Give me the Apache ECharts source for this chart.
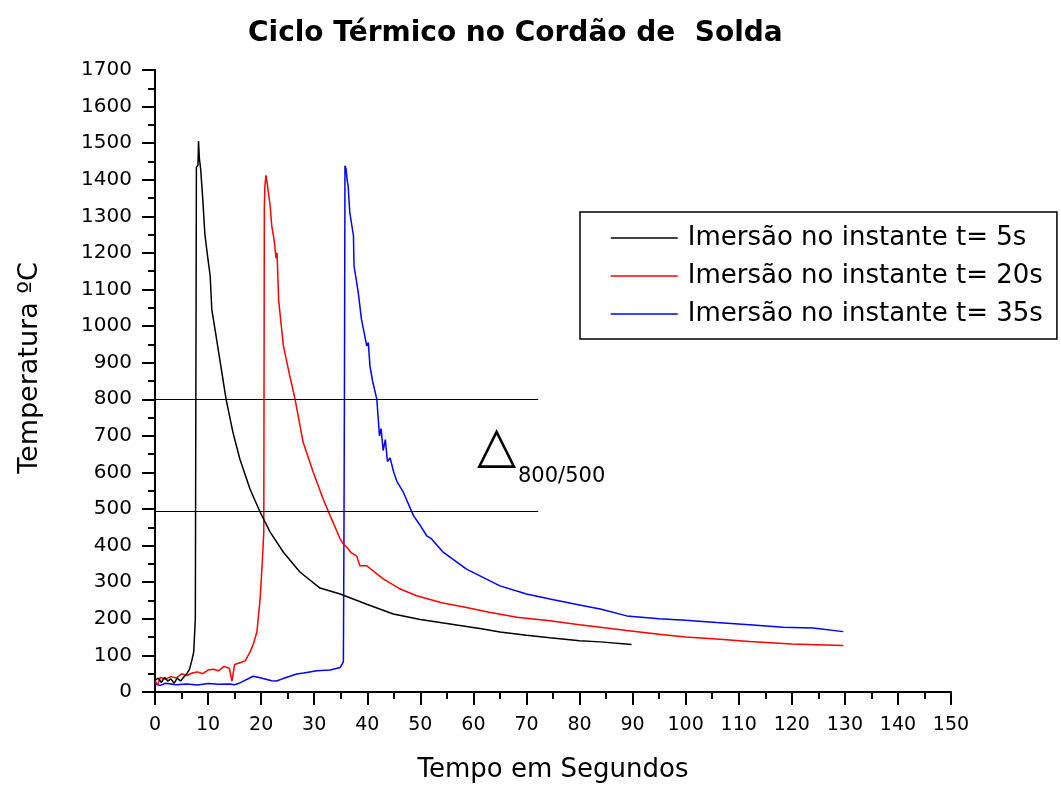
<!DOCTYPE html>
<html>
<head>
<meta charset="utf-8">
<script src="https://cdn.jsdelivr.net/npm/echarts@6/dist/echarts.min.js"></script>
<style>
html,body{margin:0;padding:0;background:#fff;}
#chart{width:1061px;height:785px;}
</style>
</head>
<body>
<div id="chart"></div>
<script>
// ---- Data ----
const seriesNames = ['Imersão no instante t= 5s', 'Imersão no instante t= 20s', 'Imersão no instante t= 35s'];

const timeBlack = [0, 0.6, 1.2, 1.8, 2.4, 3.0, 3.6, 4.2, 4.8, 5.4, 6.0, 6.5, 7.0, 7.3, 7.6, 7.8, 8.1, 8.2, 8.35, 8.6, 9.0, 9.4, 9.9, 10.4, 10.7, 11.4, 12.2, 13.4, 14.7, 16.0, 17.9, 19.8, 21.7, 24.2, 27.3, 31.1, 34.9, 39.9, 44.9, 50, 55.6, 61.8, 65, 70, 74.4, 80, 83.9, 89.8];
const tempBlack = [32, 38, 26, 40, 30, 36, 24, 38, 30, 40, 50, 62, 90, 110, 200, 1434, 1440, 1506, 1460, 1430, 1347, 1251, 1192, 1137, 1046, 983, 910, 800, 709, 636, 555, 492, 437, 382, 328, 284, 268, 240, 213, 198, 186, 172, 164, 155, 148, 140, 137, 130];

const timeRed = [0, 0.5, 1, 2, 3, 4, 5, 6, 7, 8, 9, 10, 11, 12, 13, 14, 14.5, 15, 16, 17, 17.9, 18.5, 19.2, 19.8, 20.2, 20.5, 20.6, 20.7, 20.9, 21.1, 21.4, 21.7, 22.0, 22.5, 22.8, 23.0, 23.3, 23.8, 24.2, 25.4, 26.4, 27.9, 29.8, 31.7, 33.0, 34.9, 35.4, 36.2, 37.0, 38.0, 38.6, 39.9, 43, 46, 49.3, 54, 58.7, 63, 68.2, 74.4, 80, 83.9, 88.9, 95, 100, 105.8, 112, 120, 129.7];
const tempRed = [30, 20, 40, 35, 42, 38, 50, 45, 52, 55, 50, 60, 62, 58, 70, 65, 30, 75, 80, 85, 109, 130, 164, 254, 350, 437, 1325, 1380, 1412, 1395, 1393, 1329, 1274, 1230, 1186, 1200, 1071, 1000, 946, 864, 800, 683, 601, 527, 482, 418, 406, 395, 380, 372, 345, 345, 309, 283, 263, 244, 231, 218, 204, 195, 184, 177, 168, 158, 150, 145, 138, 131, 127];

const timeBlue = [0, 1, 2, 4, 6, 8, 10, 12, 14, 15, 16, 18.5, 20, 22, 22.9, 24, 26.7, 28, 30.5, 33, 34.9, 35.5, 35.6, 35.7, 35.8, 36.0, 36.2, 36.4, 36.7, 37.4, 37.5, 38.3, 38.9, 39.9, 40.2, 40.5, 41.0, 41.5, 41.8, 42.0, 42.3, 42.6, 43.0, 43.4, 43.8, 44.3, 45.0, 45.6, 46.8, 48.7, 50, 51.2, 52, 54.3, 58.7, 65, 70, 74.4, 80, 83.9, 88.9, 95, 100, 105.8, 112, 118.4, 124, 129.7];
const tempBlue = [22, 18, 24, 20, 22, 19, 23, 21, 22, 20, 25, 43, 38, 31, 30, 36, 49, 52, 58, 60, 67, 82, 400, 837, 1438, 1430, 1400, 1383, 1311, 1247, 1165, 1092, 1019, 946, 955, 892, 850, 819, 800, 760, 700, 720, 660, 690, 630, 640, 600, 575, 546, 482, 455, 427, 420, 382, 336, 290, 268, 254, 238, 227, 208, 200, 196, 190, 184, 177, 175, 165];

const refLevels = [800, 495];
const refEndTime = 72.2;

const yTicks = {min: 0, max: 1700, step: 100};
const xTicks = {min: 0, max: 150, step: 10};

const zip = (t, v) => t.map((x, i) => [x, v[i]]);

const FONT = 'DejaVu Sans';
const chart = echarts.init(document.getElementById('chart'), null, {renderer: 'canvas'});

const axisCommon = {
  axisLine: {show: true, onZero: false, lineStyle: {color: '#000', width: 2}},
  axisTick: {show: true, inside: false, length: 13, lineStyle: {color: '#000', width: 2}},
  minorTick: {show: true, splitNumber: 2, length: 7, lineStyle: {color: '#000', width: 2}},
  splitLine: {show: false},
  minorSplitLine: {show: false}
};

chart.setOption({
  backgroundColor: '#fff',
  animation: false,
  title: {
    text: 'Ciclo Térmico no Cordão de  Solda',
    left: 243,
    top: 15,
    textStyle: {fontFamily: FONT, fontWeight: 'bold', fontSize: 28, color: '#000'}
  },
  legend: {
    data: seriesNames,
    orient: 'vertical',
    left: 580,
    top: 212,
    padding: [13, 14, 12, 30],
    itemWidth: 67,
    itemHeight: 14,
    itemGap: 12,
    borderColor: '#000',
    borderWidth: 1.5,
    backgroundColor: '#fff',
    itemStyle: {opacity: 0},
    lineStyle: {width: 1.5},
    textStyle: {fontFamily: FONT, fontSize: 26, color: '#000', padding: [0, 0, 0, 5]}
  },
  grid: {left: 155, right: 110, top: 70, bottom: 93, containLabel: false, outerBoundsMode: 'none'},
  xAxis: Object.assign({
    type: 'value',
    min: xTicks.min, max: xTicks.max, interval: xTicks.step,
    name: 'Tempo em Segundos',
    nameLocation: 'middle',
    nameGap: 65,
    nameTextStyle: {fontFamily: FONT, fontSize: 26, color: '#000'},
    axisLabel: {fontFamily: FONT, fontSize: 19, color: '#000', margin: 24, formatter: v => String(v)}
  }, axisCommon),
  yAxis: Object.assign({
    type: 'value',
    min: yTicks.min, max: yTicks.max, interval: yTicks.step,
    name: 'Temperatura ºC',
    nameLocation: 'middle',
    nameRotate: 90,
    nameGap: 112,
    nameTextStyle: {fontFamily: FONT, fontSize: 27, color: '#000', padding: [0, 0, 0, 26]},
    axisLabel: {fontFamily: FONT, fontSize: 20, color: '#000', margin: 23, formatter: v => String(v)}
  }, axisCommon),
  series: [
    {
      name: seriesNames[0], type: 'line', data: zip(timeBlack, tempBlack),
      symbol: 'none', showSymbol: false, smooth: false,
      lineStyle: {color: '#000', width: 1.5}, itemStyle: {color: '#000'},
      markLine: {
        silent: true, symbol: 'none', label: {show: false},
        lineStyle: {color: '#000', width: 1.2, type: 'solid'},
        data: refLevels.map(v => [{coord: [0, v]}, {coord: [refEndTime, v]}])
      },
      z: 4
    },
    {
      name: seriesNames[1], type: 'line', data: zip(timeRed, tempRed),
      symbol: 'none', showSymbol: false,
      lineStyle: {color: '#ff0000', width: 1.5}, itemStyle: {color: '#ff0000'}, z: 3
    },
    {
      name: seriesNames[2], type: 'line', data: zip(timeBlue, tempBlue),
      symbol: 'none', showSymbol: false,
      lineStyle: {color: '#0000ff', width: 1.5}, itemStyle: {color: '#0000ff'}, z: 2
    }
  ],
  graphic: [
    {type: 'text', left: 477, top: 423, style: {text: '△', font: '51px "DejaVu Sans"', fill: '#000'}},
    {type: 'text', left: 518, top: 466, style: {text: '800/500', font: '21px "DejaVu Sans"', fill: '#000'}}
  ]
});
</script>
</body>
</html>
